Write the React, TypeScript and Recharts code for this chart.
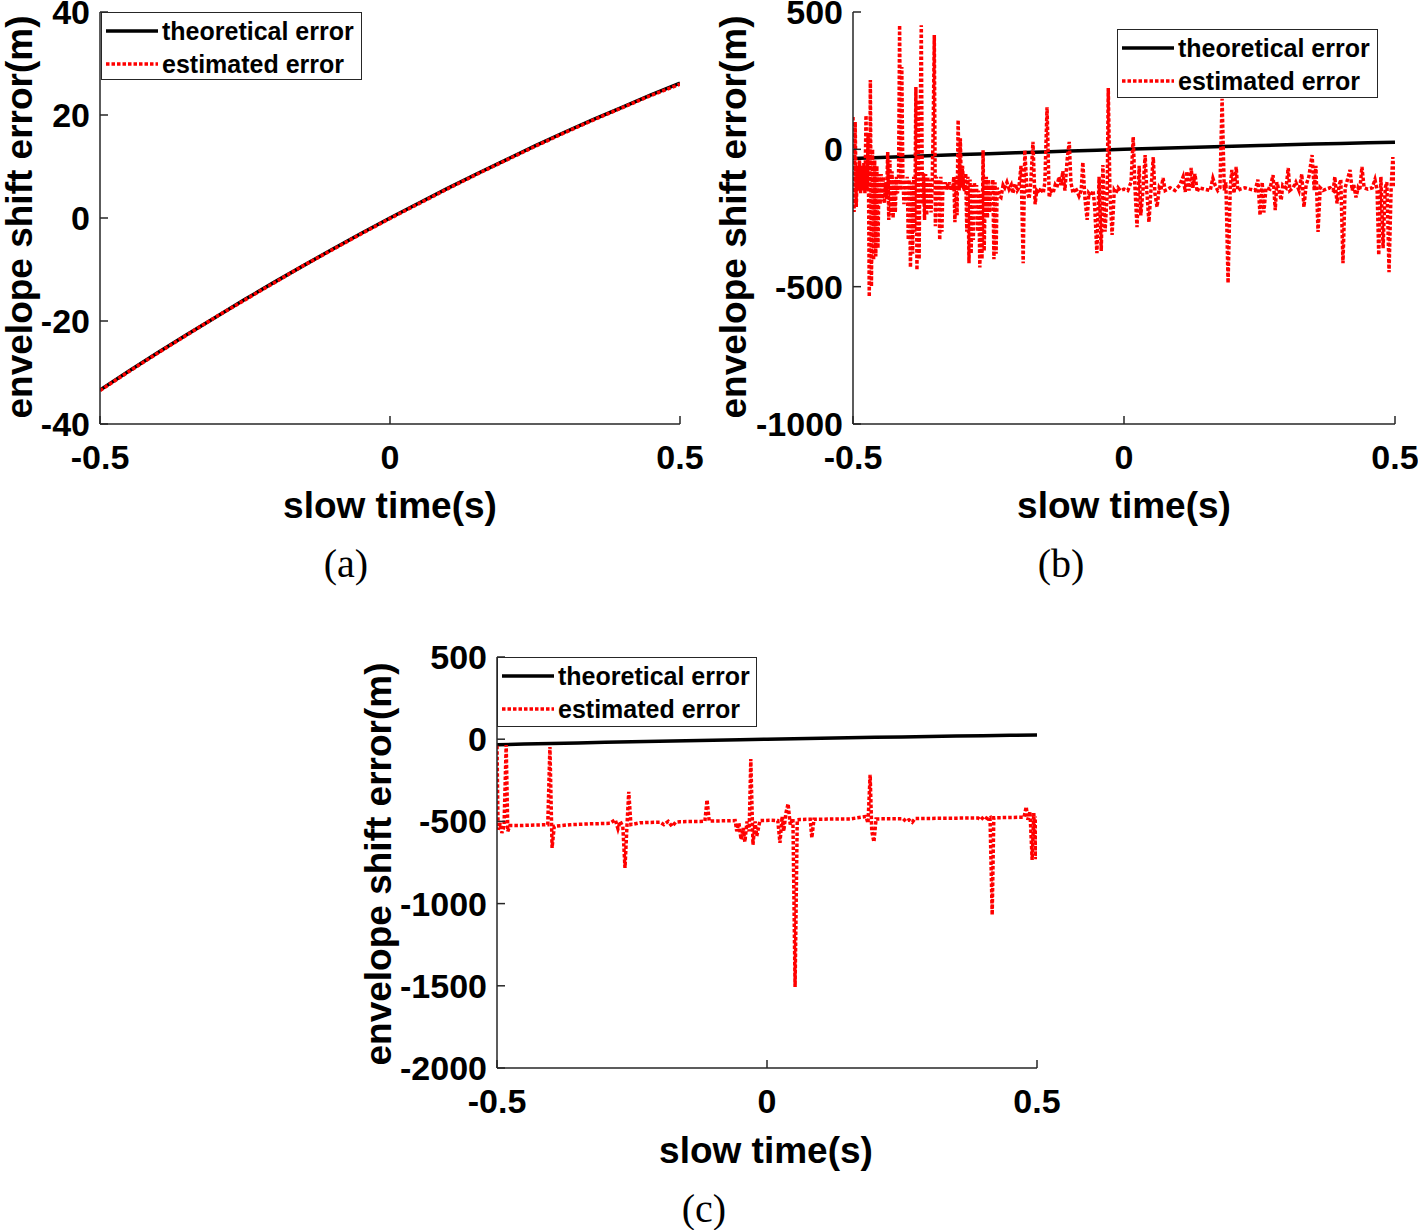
import React from 'react'
import { LineChart, Line, XAxis, YAxis } from 'recharts'

const FONT = "'Liberation Sans', Arial, Helvetica, sans-serif"

// theoretical envelope shift error, same curve in all three panels
const slowTime = [
  -0.5, -0.45, -0.4, -0.35, -0.3, -0.25, -0.2, -0.15, -0.1, -0.05, 0,
  0.05, 0.1, 0.15, 0.2, 0.25, 0.3, 0.35, 0.4, 0.45, 0.5,
]
const theoreticalError = [
  -33.4, -29.7, -26.1, -22.6, -19.2, -15.8, -12.5, -9.3, -6.1, -3.0, 0,
  2.9, 5.8, 8.6, 11.3, 14.0, 16.6, 19.1, 21.5, 23.9, 26.2,
]
const estimatedErrorA = [
  -33.5, -29.8, -26.2, -22.7, -19.2, -15.9, -12.6, -9.3, -6.2, -3.1, -0.1,
  2.8, 5.7, 8.5, 11.2, 13.9, 16.5, 19.0, 21.4, 23.8, 26.0,
]

// [slow time (s), estimated error (m)]
const estimatedErrorB: [number, number][] = [
  [-0.5, 118], [-0.498, -228], [-0.496, 100], [-0.494, -210], [-0.492, -60], [-0.49, -150],
  [-0.488, -40], [-0.486, -160], [-0.484, -60], [-0.482, -150], [-0.48, -50], [-0.478, -160],
  [-0.476, 124], [-0.474, -150], [-0.472, 60], [-0.47, -537], [-0.468, 252], [-0.466, -500],
  [-0.464, 0], [-0.462, -403], [-0.46, -40], [-0.458, -390], [-0.456, -60], [-0.454, -360],
  [-0.452, -90], [-0.45, -200], [-0.448, -90], [-0.446, -190], [-0.444, -100], [-0.442, -197],
  [-0.44, -120], [-0.438, -180], [-0.436, -10], [-0.434, -257], [-0.432, -40], [-0.43, -240],
  [-0.428, -80], [-0.426, -250], [-0.424, -110], [-0.422, -230], [-0.42, -100], [-0.418, -160],
  [-0.416, -120], [-0.414, 452], [-0.412, -150], [-0.41, 300], [-0.408, -100], [-0.406, -200],
  [-0.404, -110], [-0.402, -190], [-0.4, -100], [-0.398, -330], [-0.396, -110], [-0.394, -430],
  [-0.392, -120], [-0.39, -380], [-0.388, -100], [-0.386, -300], [-0.384, 227], [-0.382, -440],
  [-0.38, 180], [-0.378, -400], [-0.376, 120], [-0.374, 452], [-0.372, -200], [-0.37, -87],
  [-0.368, -257], [-0.366, -90], [-0.364, -240], [-0.362, -100], [-0.36, -220], [-0.358, -110],
  [-0.356, -230], [-0.354, -130], [-0.352, 80], [-0.35, 416], [-0.348, -280], [-0.346, -100],
  [-0.344, -180], [-0.342, -110], [-0.34, -330], [-0.338, -100], [-0.336, -300], [-0.334, -120],
  [-0.332, -150], [-0.33, -120], [-0.328, -150], [-0.326, -125], [-0.324, -145], [-0.322, -120],
  [-0.32, -150], [-0.318, -130], [-0.316, -145], [-0.314, -100], [-0.312, -265], [-0.31, -100],
  [-0.308, -240], [-0.306, 107], [-0.304, -150], [-0.302, 40], [-0.3, -140], [-0.298, -60],
  [-0.296, -140], [-0.294, -150], [-0.292, -87], [-0.29, -300], [-0.288, -100], [-0.286, -415],
  [-0.284, -110], [-0.282, -380], [-0.28, -130], [-0.278, -330], [-0.276, -120], [-0.274, -200],
  [-0.272, -130], [-0.27, -300], [-0.268, -150], [-0.266, -430], [-0.264, -160], [-0.262, -400],
  [-0.26, -3], [-0.258, -370], [-0.256, -150], [-0.254, -100], [-0.252, -250], [-0.25, -110],
  [-0.248, -230], [-0.246, -130], [-0.244, -150], [-0.242, -110], [-0.24, -400], [-0.238, -120],
  [-0.236, -380], [-0.234, -140], [-0.232, -150], [-0.23, -170],
  [-0.227, -175], [-0.223, -130], [-0.22, -140], [-0.216, -120],
  [-0.212, -145], [-0.208, -130], [-0.205, -160], [-0.201, -125], [-0.197, -150], [-0.194, -140],
  [-0.19, -60], [-0.186, -415], [-0.183, -3], [-0.179, -150], [-0.175, -180], [-0.172, -120],
  [-0.168, 27], [-0.164, -200], [-0.161, -150], [-0.157, -160], [-0.153, -140], [-0.149, -160],
  [-0.146, -120], [-0.142, 153], [-0.138, -175], [-0.135, -150], [-0.131, -160], [-0.127, -130],
  [-0.124, -140], [-0.12, -100], [-0.116, -130], [-0.113, -80], [-0.109, -150], [-0.105, -40],
  [-0.101, 27], [-0.098, -120], [-0.094, -160], [-0.09, -140], [-0.087, -150], [-0.083, -170],
  [-0.079, -150], [-0.076, -47], [-0.072, -180], [-0.068, -257], [-0.065, -160], [-0.061, -170],
  [-0.057, -150], [-0.054, -210], [-0.05, -378], [-0.046, -100], [-0.042, -370], [-0.039, -57],
  [-0.035, -300], [-0.031, -160], [-0.029, 223], [-0.026, -150], [-0.022, -312], [-0.018, -150],
  [-0.015, -160], [-0.011, -140], [-0.007, -150], [0, -145], [0.007, -150], [0.013, -120],
  [0.017, 45], [0.02, -130], [0.024, -283], [0.028, -60], [0.031, -240], [0.035, -150],
  [0.039, -21], [0.042, -150], [0.046, -265], [0.05, -140], [0.054, -28], [0.057, -160],
  [0.061, -210], [0.065, -140], [0.068, -150], [0.072, -105], [0.076, -150], [0.085, -140],
  [0.094, -150], [0.103, -130], [0.109, -100], [0.113, -155], [0.116, -80], [0.12, -150],
  [0.124, -68], [0.127, -140], [0.131, -90], [0.135, -155], [0.138, -140], [0.149, -145],
  [0.159, -150], [0.164, -105], [0.168, -130], [0.173, -150], [0.177, -140], [0.181, 184],
  [0.185, -150], [0.188, -120], [0.192, -487], [0.196, -140], [0.199, -75], [0.203, -160],
  [0.207, -64], [0.21, -150], [0.214, -145], [0.223, -140], [0.232, -145], [0.242, -150],
  [0.247, -110], [0.251, -240], [0.255, -120], [0.258, -230], [0.262, -140], [0.269, -145],
  [0.275, -94], [0.279, -221], [0.282, -120], [0.286, -150], [0.29, -185], [0.293, -130],
  [0.299, -140], [0.303, -68], [0.306, -150], [0.312, -140], [0.317, -120], [0.323, -150],
  [0.328, -90], [0.332, -210], [0.336, -130], [0.341, -100], [0.347, -21], [0.351, -150],
  [0.354, -60], [0.358, -301], [0.362, -140], [0.367, -150], [0.373, -145], [0.38, -140],
  [0.386, -150], [0.389, -100], [0.393, -197], [0.397, -130], [0.4, -110], [0.404, -415],
  [0.408, -140], [0.411, -120], [0.417, -75], [0.421, -150], [0.424, -130], [0.428, -175],
  [0.432, -140], [0.435, -150], [0.439, -64], [0.443, -140], [0.45, -145], [0.458, -140],
  [0.463, -110], [0.467, -150], [0.47, -385], [0.474, -100], [0.478, -360], [0.482, -140],
  [0.485, -120], [0.489, -447], [0.493, -130], [0.496, -28], [0.5, -140],
]

const estimatedErrorC: [number, number][] = [
  [-0.5, -40], [-0.498, -550], [-0.494, -510], [-0.491, -570], [-0.487, -530], [-0.483, -35],
  [-0.48, -560], [-0.476, -525], [-0.457, -525], [-0.43, -522], [-0.406, -520], [-0.402, -47],
  [-0.398, -661], [-0.394, -530], [-0.365, -520], [-0.328, -515], [-0.291, -512], [-0.281, -490],
  [-0.276, -545], [-0.272, -500], [-0.267, -530], [-0.263, -783], [-0.259, -505], [-0.256, -320],
  [-0.252, -520], [-0.235, -508], [-0.198, -505], [-0.191, -520], [-0.183, -500], [-0.176, -530],
  [-0.169, -505], [-0.161, -502], [-0.124, -500], [-0.115, -498], [-0.111, -369], [-0.107, -498],
  [-0.087, -497], [-0.059, -495], [-0.056, -560], [-0.052, -510], [-0.048, -610], [-0.044, -540],
  [-0.041, -625], [-0.037, -500], [-0.033, -560], [-0.03, -120], [-0.026, -642], [-0.022, -500],
  [-0.019, -590], [-0.013, -495], [0.006, -493], [0.02, -495], [0.024, -630], [0.028, -470],
  [0.031, -560], [0.035, -450], [0.039, -393], [0.043, -520], [0.048, -480], [0.052, -1507],
  [0.056, -490], [0.061, -488], [0.08, -487], [0.083, -600], [0.087, -487], [0.117, -486],
  [0.154, -485], [0.183, -470], [0.187, -510], [0.191, -217], [0.194, -560], [0.198, -625],
  [0.202, -485], [0.228, -484], [0.252, -483], [0.257, -500], [0.263, -490], [0.269, -505],
  [0.274, -483], [0.32, -481], [0.357, -480], [0.391, -480], [0.396, -490], [0.402, -470],
  [0.409, -485], [0.413, -478], [0.417, -1069], [0.42, -478], [0.45, -476], [0.476, -475],
  [0.48, -411], [0.483, -490], [0.487, -440], [0.491, -734], [0.494, -450], [0.498, -730],
  [0.5, -470],
]

const timeTicks = [-0.5, 0, 0.5]
const ticksA = [-40, -20, 0, 20, 40]
const ticksB = [-1000, -500, 0, 500]
const ticksC = [-2000, -1500, -1000, -500, 0, 500]

const seriesNames = ['theoretical error', 'estimated error']

const tickStyle = { fontSize: 34, fontWeight: 700, fill: '#000', fontFamily: FONT }
const frame = { stroke: '#262626', strokeWidth: 1.5 }
const blank = () => ''
const DOTS = '3.5 2'

type PanelProps = {
  left: number
  top: number
  width: number
  height: number
  margin: { top: number; right: number; bottom: number; left: number }
  yWidth: number
  yDomain: [number, number]
  yTicks: number[]
  estimated: { t: number; v: number }[]
}

function Panel({ left, top, width, height, margin, yWidth, yDomain, yTicks, estimated }: PanelProps) {
  const theory = slowTime.map((t, i) => ({ t, v: theoreticalError[i] }))
  return (
    <div style={{ position: 'absolute', left, top }}>
      <LineChart width={width} height={height} margin={margin}>
        <XAxis xAxisId="b" dataKey="t" type="number" domain={[-0.5, 0.5]} ticks={timeTicks}
          interval={0} height={60} tickSize={-8} tickMargin={29} tick={tickStyle}
          axisLine={frame} tickLine={frame} allowDataOverflow />
        <XAxis xAxisId="t" orientation="top" dataKey="t" type="number" domain={[-0.5, 0.5]}
          ticks={timeTicks} interval={0} height={0} tickSize={-8} tickFormatter={blank}
          axisLine={frame} tickLine={frame} allowDataOverflow />
        <YAxis yAxisId="l" type="number" domain={yDomain} ticks={yTicks} interval={0}
          width={yWidth} tickSize={-8} tickMargin={18} tick={tickStyle}
          axisLine={frame} tickLine={frame} allowDataOverflow />
        <YAxis yAxisId="r" orientation="right" type="number" domain={yDomain} ticks={yTicks}
          interval={0} width={0} tickSize={-8} tickFormatter={blank}
          axisLine={frame} tickLine={frame} allowDataOverflow />
        <Line xAxisId="b" yAxisId="l" data={theory} dataKey="v" name={seriesNames[0]}
          stroke="#000" strokeWidth={3.5} dot={false} isAnimationActive={false} />
        <Line xAxisId="b" yAxisId="l" data={estimated} dataKey="v" name={seriesNames[1]}
          stroke="#ff0000" strokeWidth={3.5} strokeDasharray={DOTS} dot={false} isAnimationActive={false} />
      </LineChart>
    </div>
  )
}

function LegendBox({ left, top, width, height }: { left: number; top: number; width: number; height: number }) {
  return (
    <div style={{
      position: 'absolute', left, top, width, height, boxSizing: 'border-box',
      border: '1.5px solid #262626', background: '#fff',
      fontFamily: FONT, fontWeight: 700, fontSize: 25, color: '#000',
    }}>
      {seriesNames.map((name, i) => (
        <div key={name} style={{ position: 'absolute', left: 4, top: 3 + i * 33, height: 30, display: 'flex', alignItems: 'center', whiteSpace: 'nowrap' }}>
          <svg width={52} height={6}>
            <line x1={0} y1={3} x2={52} y2={3} stroke={i === 0 ? '#000' : '#ff0000'} strokeWidth={3.5}
              strokeDasharray={i === 0 ? undefined : DOTS} />
          </svg>
          <span style={{ marginLeft: 4 }}>{name}</span>
        </div>
      ))}
    </div>
  )
}

const pairs = (arr: [number, number][]) => arr.map(([t, v]) => ({ t, v }))

export default function App() {
  const estA = slowTime.map((t, i) => ({ t, v: estimatedErrorA[i] }))
  const yTitle = 'envelope shift error(m)'
  const xTitle = 'slow time(s)'
  const titleStyle = { fontFamily: FONT, fontWeight: 700, fontSize: 37, fill: '#000' }
  const capStyle = { fontFamily: "'Liberation Serif', 'Times New Roman', serif", fontSize: 40, fill: '#000' }
  return (
    <div style={{ position: 'absolute', left: 0, top: 0, width: 1418, height: 1230, background: '#fff', overflow: 'hidden' }}>
      <Panel left={0} top={-20} width={720} height={620}
        margin={{ top: 32, right: 40, bottom: 116, left: 0 }} yWidth={100}
        yDomain={[-40, 40]} yTicks={ticksA} estimated={estA} />
      <Panel left={720} top={-20} width={698} height={620}
        margin={{ top: 32, right: 23, bottom: 116, left: 0 }} yWidth={133}
        yDomain={[-1000, 500]} yTicks={ticksB} estimated={pairs(estimatedErrorB)} />
      <Panel left={360} top={620} width={720} height={610}
        margin={{ top: 37, right: 43, bottom: 102, left: 0 }} yWidth={137}
        yDomain={[-2000, 500]} yTicks={ticksC} estimated={pairs(estimatedErrorC)} />

      <LegendBox left={101} top={12} width={261} height={68} />
      <LegendBox left={1117} top={29} width={261} height={69} />
      <LegendBox left={497} top={657} width={260} height={70} />

      <svg width={1418} height={1230} style={{ position: 'absolute', left: 0, top: 0, pointerEvents: 'none' }}>
        <text {...titleStyle} x={19} y={217} textAnchor="middle" dominantBaseline="central" transform="rotate(-90 19 217)">{yTitle}</text>
        <text {...titleStyle} x={733} y={217} textAnchor="middle" dominantBaseline="central" transform="rotate(-90 733 217)">{yTitle}</text>
        <text {...titleStyle} x={378} y={864} textAnchor="middle" dominantBaseline="central" transform="rotate(-90 378 864)">{yTitle}</text>
        <text {...titleStyle} x={390} y={505} textAnchor="middle" dominantBaseline="central">{xTitle}</text>
        <text {...titleStyle} x={1124} y={505} textAnchor="middle" dominantBaseline="central">{xTitle}</text>
        <text {...titleStyle} x={766} y={1150} textAnchor="middle" dominantBaseline="central">{xTitle}</text>
        <text {...capStyle} x={346} y={563} textAnchor="middle" dominantBaseline="central">(a)</text>
        <text {...capStyle} x={1061} y={563} textAnchor="middle" dominantBaseline="central">(b)</text>
        <text {...capStyle} x={704} y={1208} textAnchor="middle" dominantBaseline="central">(c)</text>
      </svg>
    </div>
  )
}
